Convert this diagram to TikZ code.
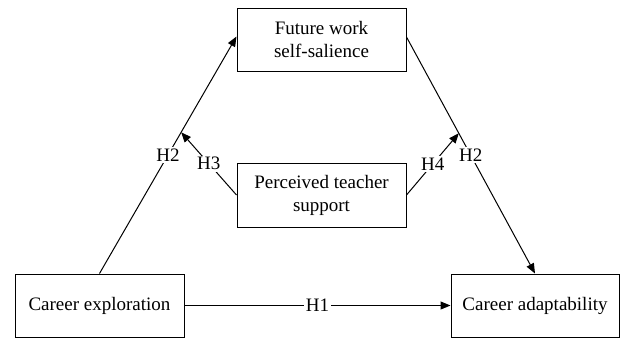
\documentclass[tikz,border=0pt]{standalone}
\usepackage{fontspec}
\setmainfont{Liberation Serif}
\usetikzlibrary{arrows.meta,calc}
\begin{document}
\begin{tikzpicture}[x=1pt,y=-1pt,
  box/.style={draw,line width=1pt,minimum width=169pt,minimum height=63pt,align=center,inner sep=2pt,font=\fontsize{19}{23}\selectfont},
  conn/.style={line width=1pt,-{Triangle[length=10pt,width=8pt]}},
  hlab/.style={fill=white,inner sep=1.5pt,font=\fontsize{19}{22}\selectfont}]
\useasboundingbox (0,0) rectangle (620,338);
\node[box] (fw) at (321.5,39.5) {Future work\\self-salience};
\node[box,minimum height=64pt] (pts) at (321.5,195) {Perceived teacher\\support};
\node[box] (ce) at (99.5,305.5) {Career exploration};
\node[box,minimum width=168pt] (ca) at (535,305.5) {Career adaptability};
\coordinate (lt) at ([yshift=3pt]fw.west);
\coordinate (lb) at (ce.north);
\coordinate (rt) at ([yshift=2.5pt]fw.east);
\coordinate (rb) at (ca.north);
\coordinate (lm) at ($(lb)!0.596!(lt)$);
\coordinate (rm) at ($(rt)!0.407!(rb)$);
\draw[conn] (lb) -- node[hlab]{H2} (lt);
\draw[conn] (rt) -- node[hlab]{H2} (rb);
\draw[conn] (pts.west) -- node[hlab]{H3} (lm);
\draw[conn] (pts.east) -- node[hlab]{H4} (rm);
\draw[conn] (ce.east) -- node[hlab]{H1} (ca.west);
\end{tikzpicture}
\end{document}
